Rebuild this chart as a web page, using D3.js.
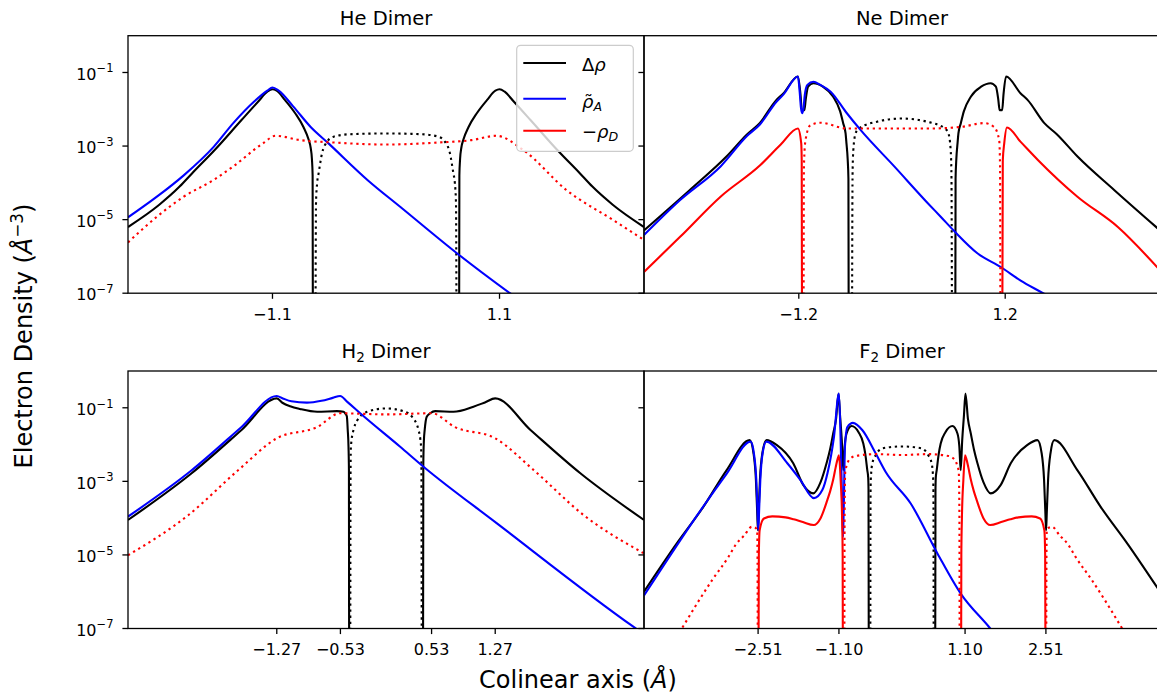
<!DOCTYPE html>
<html>
<head>
<meta charset="utf-8">
<script src="https://cdn.jsdelivr.net/npm/d3@7"></script>
<style>
  body { margin: 0; background: #fff; }
  text { font-family: "DejaVu Sans", sans-serif; fill: #000; }
</style>
</head>
<body>
<svg id="chart" width="1157" height="698"></svg>
<script>
// Signed densities (Å^-3) along the colinear axis; negative values are drawn dotted as |value|.

// ---------- He dimer ----------
const heDelta = [
  [-2.5, 6.3e-6], [-2.2, 2.5e-5], [-2.0, 7.9e-5], [-1.88, 1.8e-4], [-1.66, 7.8e-4], [-1.4, 5.1e-3],
  [-1.24, 1.6e-2], [-1.15, 3.0e-2], [-1.1, 3.5e-2], [-1.06, 3.2e-2], [-0.98, 1.8e-2], [-0.88, 7.8e-3],
  [-0.8, 3.3e-3], [-0.75, 1.5e-3], [-0.73, 9.0e-4], [-0.718, 4.5e-4], [-0.711, 1.6e-4], [-0.708, 1e-9],
  [-0.684, -1e-9], [-0.678, -3.0e-5], [-0.667, -1.0e-4], [-0.653, -1.8e-4], [-0.62, -6.3e-4], [-0.572, -1.3e-3],
  [-0.508, -1.8e-3], [-0.346, -2.1e-3], [0, -2.2e-3], [0.346, -2.1e-3], [0.508, -1.8e-3], [0.572, -1.3e-3],
  [0.62, -6.3e-4], [0.653, -1.8e-4], [0.667, -1.0e-4], [0.678, -3.0e-5], [0.684, -1e-9],
  [0.708, 1e-9], [0.711, 1.6e-4], [0.718, 4.5e-4], [0.73, 9.0e-4], [0.75, 1.5e-3], [0.8, 3.3e-3],
  [0.88, 7.8e-3], [0.98, 1.8e-2], [1.06, 3.2e-2], [1.1, 3.5e-2], [1.15, 3.0e-2], [1.24, 1.6e-2],
  [1.4, 5.1e-3], [1.66, 7.8e-4], [1.88, 1.8e-4], [2.0, 7.9e-5], [2.2, 2.5e-5], [2.5, 6.3e-6]
];
const heRhoA = [
  [-2.5, 1.15e-5], [-2.22, 4.2e-5], [-1.96, 1.6e-4], [-1.67, 9.5e-4], [-1.48, 4.2e-3], [-1.28, 1.6e-2],
  [-1.15, 3.2e-2], [-1.1, 3.9e-2], [-1.04, 3.2e-2], [-0.9, 1.2e-2], [-0.73, 3.3e-3], [-0.56, 1.2e-3],
  [-0.18, 1.2e-4], [0.14, 2.2e-5], [0.69, 1.2e-6], [1.2, 1.0e-7], [1.6, 1.6e-8]
];
const heRhoD = [
  [-2.5, -2.4e-6], [-2.22, -1.2e-5], [-1.96, -4.2e-5], [-1.67, -1.2e-4], [-1.48, -2.8e-4], [-1.19, -1.2e-3],
  [-1.07, -1.9e-3], [-0.83, -1.45e-3], [-0.51, -1.25e-3], [0, -1.1e-3], [0.51, -1.25e-3], [0.83, -1.45e-3],
  [1.07, -1.9e-3], [1.33, -7.8e-4], [1.75, -6.3e-5], [2.2, -9.8e-6], [2.5, -2.8e-6]
];

// ---------- Ne dimer ----------
const neDelta = [
  [-3.0, 5.1e-6], [-2.47, 6.3e-5], [-2.044, 5.1e-4], [-1.8, 2.1e-3], [-1.655, 4.2e-3], [-1.46, 1.8e-2],
  [-1.38, 2.7e-2], [-1.21, 7.8e-2], [-1.18, 2.5e-2], [-1.165, 9.5e-3], [-1.135, 9.5e-3], [-1.12, 1.8e-2],
  [-1.092, 4.1e-2], [-1.03, 5.1e-2], [-0.92, 4.1e-2], [-0.8, 2.2e-2], [-0.72, 8.9e-3], [-0.684, 4.2e-3],
  [-0.656, 2.2e-3], [-0.646, 1.2e-3], [-0.632, 4.5e-4], [-0.623, 1.3e-4], [-0.619, 1e-9],
  [-0.582, -1e-9], [-0.575, -1.6e-4], [-0.566, -7.8e-4], [-0.54, -2.2e-3], [-0.5, -3.0e-3], [-0.29, -4.6e-3],
  [0, -5.6e-3], [0.29, -4.6e-3], [0.5, -3.0e-3], [0.54, -2.2e-3], [0.566, -7.8e-4], [0.575, -1.6e-4], [0.582, -1e-9],
  [0.619, 1e-9], [0.623, 1.3e-4], [0.632, 4.5e-4], [0.646, 1.2e-3], [0.656, 2.2e-3], [0.684, 4.2e-3],
  [0.72, 8.9e-3], [0.8, 2.2e-2], [0.92, 4.1e-2], [1.03, 5.1e-2], [1.092, 4.1e-2], [1.12, 1.8e-2],
  [1.135, 9.5e-3], [1.165, 9.5e-3], [1.18, 2.5e-2], [1.21, 7.8e-2], [1.38, 2.7e-2], [1.46, 1.8e-2],
  [1.655, 4.2e-3], [1.8, 2.1e-3], [2.044, 5.1e-4], [2.47, 6.3e-5], [3.0, 5.1e-6]
];
const neRhoA = [
  [-3.0, 3.8e-6], [-2.58, 3.4e-5], [-2.11, 2.8e-4], [-1.8, 1.9e-3], [-1.655, 3.8e-3], [-1.46, 1.6e-2],
  [-1.38, 2.5e-2], [-1.21, 7.8e-2], [-1.19, 3.0e-2], [-1.175, 1.1e-2], [-1.16, 7.8e-3], [-1.145, 1.1e-2],
  [-1.13, 2.5e-2], [-1.1, 4.6e-2], [-1.03, 5.6e-2], [-0.95, 4.6e-2], [-0.83, 3.0e-2], [-0.65, 8.3e-3],
  [-0.48, 2.7e-3], [-0.09, 2.8e-4], [0.3, 2.8e-5], [0.45, 1.2e-5], [0.61, 4.8e-6], [0.88, 1.2e-6],
  [1.15, 5.1e-7], [1.38, 2.2e-7], [1.64, 1.0e-7], [2.0, 3.2e-8]
];
const neRhoD = [
  [-3.0, 3.8e-7], [-2.58, 3.4e-6], [-2.11, 4.2e-5], [-1.65, 3.0e-4], [-1.41, 1.1e-3], [-1.21, 3.0e-3],
  [-1.172, 1.2e-3], [-1.166, 4e-4], [-1.162, 1e-9],
  [-1.145, -1e-9], [-1.14, -3e-4], [-1.122, -1.45e-3], [-1.064, -3.7e-3], [-0.95, -4.3e-3], [-0.64, -3.0e-3],
  [0, -3.0e-3], [0.3, -3.0e-3], [0.68, -3.3e-3], [0.956, -4.2e-3], [1.07, -3.3e-3], [1.13, -1.45e-3],
  [1.14, -3e-4], [1.145, -1e-9],
  [1.165, 1e-9], [1.172, 4e-4], [1.189, 1.2e-3], [1.22, 3.2e-3], [1.38, 1.3e-3], [1.58, 4.2e-4],
  [2.04, 4.2e-5], [2.51, 6.3e-6], [3.0, 4.2e-7]
];

// ---------- H2 dimer ----------
const h2Delta = [
  [-3.0, 8.9e-5], [-2.26, 1.66e-3], [-1.68, 2.5e-2], [-1.27, 1.8e-1], [-1.2, 1.35e-1], [-1.114, 1.1e-1],
  [-1.0, 9.3e-2], [-0.8, 7.8e-2], [-0.57, 8.1e-2], [-0.494, 7.8e-2], [-0.47, 6.8e-2], [-0.455, 5.8e-2],
  [-0.445, 2.5e-2], [-0.436, 8.7e-3], [-0.431, 2e-3], [-0.428, 1e-9],
  [-0.416, -1e-9], [-0.412, -2e-3], [-0.408, -8.7e-3], [-0.378, -2.5e-2], [-0.3, -5.8e-2], [-0.22, -7.8e-2],
  [0, -9.6e-2], [0.22, -7.8e-2], [0.3, -5.8e-2], [0.378, -2.5e-2], [0.408, -8.7e-3], [0.412, -2e-3], [0.416, -1e-9],
  [0.43, 1e-9], [0.434, 3e-3], [0.44, 1.2e-2], [0.45, 2.5e-2], [0.475, 5.8e-2], [0.514, 7.1e-2],
  [0.572, 8.1e-2], [0.785, 7.8e-2], [1.017, 1.07e-1], [1.15, 1.4e-1], [1.27, 1.8e-1], [1.68, 2.5e-2],
  [2.26, 1.66e-3], [3.0, 8.9e-5]
];
const h2RhoA = [
  [-3.0, 1.1e-4], [-2.26, 2.0e-3], [-1.68, 3.0e-2], [-1.27, 2.1e-1], [-1.2, 1.8e-1], [-1.1, 1.5e-1],
  [-0.92, 1.38e-1], [-0.75, 1.55e-1], [-0.62, 1.86e-1], [-0.533, 2.1e-1], [-0.45, 1.45e-1], [-0.3, 7.1e-2],
  [0.165, 8.7e-3], [0.436, 2.5e-3], [1.29, 7.2e-5], [2.88, 1.1e-7], [3.0, 7.0e-8]
];
const h2RhoD = [
  [-3.0, -9.8e-6], [-2.3, -1.2e-4], [-1.72, -2.0e-3], [-1.27, -1.48e-2], [-0.8, -3.0e-2], [-0.533, -7.1e-2],
  [0, -6.6e-2], [0.533, -7.1e-2], [0.8, -3.0e-2], [1.27, -1.48e-2], [1.72, -2.0e-3], [2.3, -1.2e-4],
  [3.0, -1.1e-5]
];

// ---------- F2 dimer ----------
const f2Delta = [
  [-4.5, 1.0e-6], [-3.934, 2.0e-5], [-3.468, 2.0e-4], [-3.061, 2.0e-3], [-2.655, 1.32e-2], [-2.59, 5.8e-3],
  [-2.548, 1.1e-3], [-2.525, 1.35e-4], [-2.513, 4.7e-5], [-2.501, 1.35e-4], [-2.478, 1.1e-3], [-2.436, 5.8e-3],
  [-2.363, 1.32e-2], [-2.188, 9.8e-3], [-1.897, 3.1e-3], [-1.72, 7.9e-4], [-1.548, 4.7e-4], [-1.42, 9.5e-4],
  [-1.316, 3.1e-3], [-1.257, 7.1e-3], [-1.2, 2.0e-2], [-1.15, 5.0e-2], [-1.107, 2.45e-1], [-1.08, 6.0e-2],
  [-1.05, 1.3e-2], [-1.024, 2.0e-3], [-1.0, 8.9e-3], [-0.967, 2.0e-2], [-0.88, 3.2e-2], [-0.76, 2.2e-2],
  [-0.675, 1.07e-2], [-0.64, 5.5e-3], [-0.605, 2.0e-3], [-0.59, 1.3e-3], [-0.584, 6e-4], [-0.578, 1e-9],
  [-0.553, -1e-9], [-0.549, -3e-4], [-0.545, -1.07e-3], [-0.517, -3.1e-3], [-0.459, -5.1e-3], [-0.342, -7.9e-3],
  [0, -8.9e-3], [0.342, -7.9e-3], [0.459, -5.1e-3], [0.517, -3.1e-3], [0.545, -1.07e-3], [0.549, -3e-4], [0.553, -1e-9],
  [0.578, 1e-9], [0.584, 6e-4], [0.59, 1.3e-3], [0.605, 2.0e-3], [0.64, 5.5e-3], [0.675, 1.07e-2],
  [0.76, 2.2e-2], [0.88, 3.2e-2], [0.967, 2.0e-2], [1.0, 8.9e-3], [1.024, 2.0e-3], [1.05, 1.3e-2],
  [1.08, 6.0e-2], [1.107, 2.45e-1], [1.15, 5.0e-2], [1.2, 2.0e-2], [1.257, 7.1e-3], [1.316, 3.1e-3],
  [1.42, 9.5e-4], [1.548, 4.7e-4], [1.72, 7.9e-4], [1.897, 3.1e-3], [2.188, 9.8e-3], [2.363, 1.32e-2],
  [2.436, 5.8e-3], [2.478, 1.1e-3], [2.501, 1.35e-4], [2.513, 4.7e-5], [2.525, 1.35e-4], [2.548, 1.1e-3],
  [2.59, 5.8e-3], [2.655, 1.32e-2], [3.061, 2.0e-3], [3.468, 2.0e-4], [3.934, 2.0e-5], [4.5, 1.0e-6]
];
const f2RhoA = [
  [-4.5, 7.9e-7], [-3.51, 1.66e-4], [-3.06, 1.6e-3], [-2.64, 1.2e-2], [-2.583, 5.8e-3], [-2.541, 1.1e-3],
  [-2.518, 1.35e-4], [-2.506, 4.7e-5], [-2.494, 1.35e-4], [-2.471, 1.1e-3], [-2.431, 5.8e-3], [-2.367, 1.2e-2],
  [-2.0, 3.1e-3], [-1.768, 1.07e-3], [-1.536, 3.5e-4], [-1.39, 5.8e-4], [-1.3, 1.66e-3], [-1.187, 1.6e-2],
  [-1.1, 2.45e-1], [-1.07, 1.3e-2], [-1.04, 1.35e-4], [-1.03, 3.1e-5], [-1.018, 1.3e-4], [-0.995, 8.7e-3],
  [-0.953, 3.0e-2], [-0.855, 3.9e-2], [-0.69, 2.45e-2], [-0.46, 5.8e-3], [-0.284, 1.8e-3], [0.152, 2.5e-4],
  [0.618, 1.1e-5], [1.024, 8.9e-7], [1.518, 1.1e-7], [1.8, 3.2e-8]
];
const f2RhoD = [
  [-4.2, -1.1e-8], [-3.84, -1.0e-7], [-3.3, -2.2e-6], [-3.03, -8.7e-6], [-2.9, -1.9e-5], [-2.75, -3.4e-5],
  [-2.62, -5.8e-5], [-2.56, -5.5e-5], [-2.526, -4.7e-5], [-2.52, -1e-5], [-2.515, -1e-9],
  [-2.505, 1e-9], [-2.497, 1e-5], [-2.483, 4.7e-5], [-2.408, 9.8e-5], [-2.262, 1.12e-4], [-2.03, 1.05e-4],
  [-1.89, 9.3e-5], [-1.73, 7.8e-5], [-1.54, 6.5e-5], [-1.42, 1.0e-4], [-1.3, 3.2e-4], [-1.25, 5.6e-4],
  [-1.2, 1.12e-3], [-1.157, 2.4e-3], [-1.12, 4.2e-3], [-1.1, 5.1e-3], [-1.07, 1.07e-3], [-1.045, 1.0e-4],
  [-1.035, 1.0e-5], [-1.03, 1e-9],
  [-1.006, -1e-9], [-1.001, -1.35e-4], [-0.99, -1.8e-3], [-0.96, -2.8e-3], [-0.925, -3.8e-3], [-0.81, -4.9e-3],
  [-0.45, -5.5e-3], [0, -5.2e-3], [0.45, -5.5e-3], [0.81, -4.9e-3], [0.925, -3.8e-3], [0.96, -2.8e-3],
  [0.99, -1.8e-3], [1.001, -1.35e-4], [1.006, -1e-9],
  [1.03, 1e-9], [1.035, 1.0e-5], [1.045, 1.0e-4], [1.07, 1.07e-3], [1.1, 5.1e-3], [1.12, 4.2e-3],
  [1.157, 2.4e-3], [1.2, 1.12e-3], [1.25, 5.6e-4], [1.3, 3.2e-4], [1.42, 1.0e-4], [1.54, 6.5e-5],
  [1.73, 7.8e-5], [1.89, 9.3e-5], [2.03, 1.05e-4], [2.262, 1.12e-4], [2.408, 9.8e-5], [2.483, 4.7e-5],
  [2.497, 1e-5], [2.505, 1e-9],
  [2.515, -1e-9], [2.52, -1e-5], [2.526, -4.7e-5], [2.56, -5.5e-5], [2.62, -5.8e-5], [2.75, -3.4e-5],
  [2.9, -1.9e-5], [3.03, -8.7e-6], [3.3, -2.2e-6], [3.84, -1.0e-7], [4.2, -1.1e-8]
];

// ---------- axes ----------
const heTicks = [-1.1, 1.1];
const neTicks = [-1.2, 1.2];
const h2Ticks = [-1.27, -0.53, 0.53, 1.27];
const f2Ticks = [-2.51, -1.10, 1.10, 2.51];
const heTickLabels = ["\u22121.1", "1.1"];
const neTickLabels = ["\u22121.2", "1.2"];
const h2TickLabels = ["\u22121.27", "\u22120.53", "0.53", "1.27"];
const f2TickLabels = ["\u22122.51", "\u22121.10", "1.10", "2.51"];
const yTicks = [1e-1, 1e-3, 1e-5, 1e-7];
const yTickExponents = ["\u22121", "\u22123", "\u22125", "\u22127"];
const yDomain = [1e-7, 1];

const seriesNames = ["delta", "rhoA", "rhoD"];
const seriesColors = { delta: "#000000", rhoA: "#0000ff", rhoD: "#ff0000" };

const panels = [
  { title: ["He Dimer"], xDomain: [-2.5, 2.5], ticks: heTicks, tickLabels: heTickLabels,
    col: 0, row: 0, data: { delta: heDelta, rhoA: heRhoA, rhoD: heRhoD } },
  { title: ["Ne Dimer"], xDomain: [-3, 3], ticks: neTicks, tickLabels: neTickLabels,
    col: 1, row: 0, data: { delta: neDelta, rhoA: neRhoA, rhoD: neRhoD } },
  { title: ["H", "2", " Dimer"], xDomain: [-3, 3], ticks: h2Ticks, tickLabels: h2TickLabels,
    col: 0, row: 1, data: { delta: h2Delta, rhoA: h2RhoA, rhoD: h2RhoD } },
  { title: ["F", "2", " Dimer"], xDomain: [-4.5, 4.5], ticks: f2Ticks, tickLabels: f2TickLabels,
    col: 1, row: 1, data: { delta: f2Delta, rhoA: f2RhoA, rhoD: f2RhoD } }
];

// ---------- layout ----------
const PW = 516, PH = 257.5;
const colX = [128, 644];
const rowY = [35.7, 371];
const TICK = 5.6;
const LW = 2.1;

const svg = d3.select("#chart");
svg.append("rect").attr("width", 1157).attr("height", 698).attr("fill", "#fff");

// split a signed series into same-sign runs
function signedRuns(points) {
  const runs = [];
  let cur = null;
  points.forEach(([xv, v]) => {
    const s = v >= 0 ? 1 : -1;
    if (!cur || cur.sign !== s) { cur = { sign: s, pts: [] }; runs.push(cur); }
    cur.pts.push([xv, Math.abs(v)]);
  });
  return runs;
}

panels.forEach((p, i) => {
  const g = svg.append("g").attr("transform", `translate(${colX[p.col]},${rowY[p.row]})`);
  const x = d3.scaleLinear().domain(p.xDomain).range([0, PW]);
  const y = d3.scaleLog().domain(yDomain).range([PH, 0]);

  const clipId = "clip-" + i;
  g.append("clipPath").attr("id", clipId)
    .append("rect").attr("x", 0).attr("y", 0).attr("width", PW).attr("height", PH);
  const plot = g.append("g").attr("clip-path", `url(#${clipId})`);

  const line = d3.line()
    .x(d => x(d[0]))
    .y(d => y(d[1]))
    .curve(d3.curveMonotoneX);

  seriesNames.forEach(name => {
    signedRuns(p.data[name]).forEach(run => {
      plot.append("path")
        .attr("d", line(run.pts))
        .attr("fill", "none")
        .attr("stroke", seriesColors[name])
        .attr("stroke-width", LW)
        .attr("stroke-linejoin", "round")
        .attr("stroke-dasharray", run.sign < 0 ? "2.3 3.7" : null)
        .attr("stroke-linecap", "butt");
    });
  });

  // frame
  g.append("rect").attr("width", PW).attr("height", PH)
    .attr("fill", "none").attr("stroke", "#000").attr("stroke-width", 1.3);

  // x ticks
  const xt = g.append("g").attr("transform", `translate(0,${PH})`);
  p.ticks.forEach((t, k) => {
    xt.append("line").attr("x1", x(t)).attr("x2", x(t)).attr("y1", 0).attr("y2", TICK)
      .attr("stroke", "#000").attr("stroke-width", 1.3);
    xt.append("text").attr("x", x(t)).attr("y", 26.5).attr("text-anchor", "middle")
      .attr("font-size", 16).text(p.tickLabels[k]);
  });

  // y ticks
  yTicks.forEach((t, k) => {
    g.append("line").attr("x1", -TICK).attr("x2", 0).attr("y1", y(t)).attr("y2", y(t))
      .attr("stroke", "#000").attr("stroke-width", 1.3);
    if (p.col === 0) {
      const tx = g.append("text").attr("x", -14.5).attr("y", y(t) + 7.3)
        .attr("text-anchor", "end").attr("font-size", 16);
      tx.append("tspan").text("10");
      tx.append("tspan").attr("font-size", 11.5).attr("dy", -7.5).text(yTickExponents[k]);
    }
  });

  // title
  const title = g.append("text").attr("x", PW / 2).attr("y", p.title.length > 1 ? -12.7 : -10.7)
    .attr("text-anchor", "middle").attr("font-size", 19.5);
  if (p.title.length > 1) {
    title.append("tspan").text(p.title[0]);
    title.append("tspan").attr("font-size", 13.5).attr("dy", 4).text(p.title[1]);
    title.append("tspan").attr("dy", -4).text(p.title[2]);
  } else {
    title.text(p.title[0]);
  }

  // legend in the first panel
  if (i === 0) {
    const lg = svg.append("g");
    lg.append("rect").attr("x", 516.7).attr("y", 45.3).attr("width", 116.6).attr("height", 106)
      .attr("rx", 4).attr("fill", "#fff").attr("fill-opacity", 0.8)
      .attr("stroke", "#cccccc").attr("stroke-width", 1.2);
    const rowsY = [63, 98.7, 130.7];
    seriesNames.forEach((name, k) => {
      lg.append("line").attr("x1", 523.3).attr("x2", 566).attr("y1", rowsY[k]).attr("y2", rowsY[k])
        .attr("stroke", seriesColors[name]).attr("stroke-width", LW);
    });
    const fs = 18;
    const t1 = lg.append("text").attr("x", 582).attr("y", rowsY[0] + 7.6).attr("font-size", fs);
    t1.append("tspan").text("\u0394");
    t1.append("tspan").attr("font-style", "italic").text("\u03c1");
    const t2 = lg.append("text").attr("x", 582).attr("y", rowsY[1] + 9.2).attr("font-size", fs);
    t2.append("tspan").attr("font-style", "italic").text("\u03c1");
    t2.append("tspan").attr("font-style", "italic").attr("font-size", 12.6).attr("dy", 3.5).text("A");
    lg.append("text").attr("x", 588.5).attr("y", rowsY[1] + 9.2).attr("text-anchor", "middle")
      .attr("font-size", fs).text("\u02dc");
    const t3 = lg.append("text").attr("x", 582).attr("y", rowsY[2] + 7).attr("font-size", fs);
    t3.append("tspan").text("\u2212");
    t3.append("tspan").attr("font-style", "italic").text("\u03c1");
    t3.append("tspan").attr("font-style", "italic").attr("font-size", 12.6).attr("dy", 3.5).text("D");
  }
});

// shared axis labels
const xl = svg.append("text").attr("x", 578).attr("y", 688).attr("text-anchor", "middle").attr("font-size", 24);
xl.append("tspan").text("Colinear axis (");
xl.append("tspan").attr("font-style", "italic").text("\u00c5");
xl.append("tspan").text(")");

const yl = svg.append("text").attr("transform", "translate(32,336) rotate(-90)")
  .attr("text-anchor", "middle").attr("font-size", 24);
yl.append("tspan").text("Electron Density (");
yl.append("tspan").attr("font-style", "italic").text("\u00c5");
yl.append("tspan").attr("font-size", 16.8).attr("dy", -9).text("\u22123");
yl.append("tspan").attr("dy", 9).text(")");
</script>
</body>
</html>
